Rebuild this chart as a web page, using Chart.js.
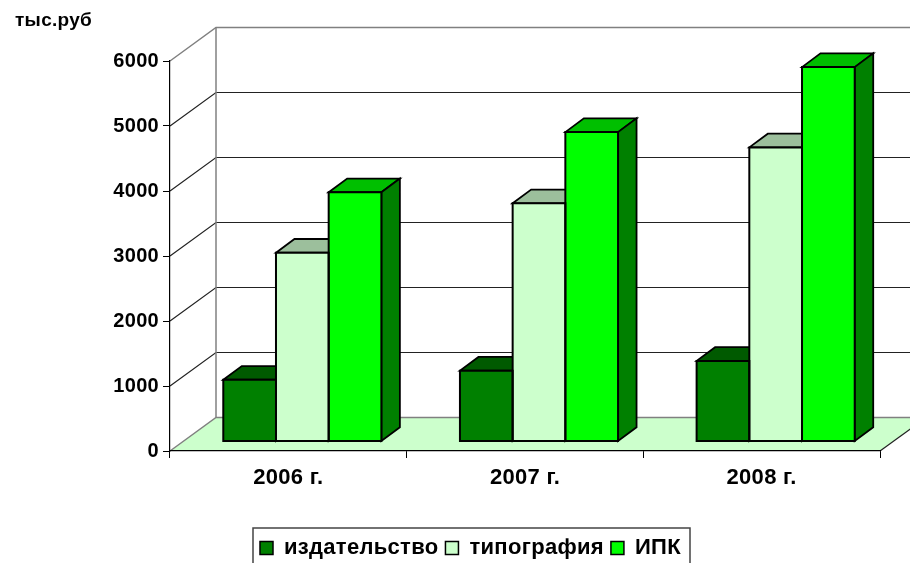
<!DOCTYPE html>
<html><head><meta charset="utf-8">
<style>html,body{margin:0;padding:0;background:#fff;overflow:hidden}#w{width:910px;height:563px}</style>
<script src="https://cdn.jsdelivr.net/npm/chart.js@4"></script>
</head><body><div id="w"><canvas id="c"></canvas></div>
<script>
const categories = ['2006 г.', '2007 г.', '2008 г.'];
const izdatelstvo = [950, 1090, 1240];
const tipografia = [2905, 3665, 4525];
const ipk = [3835, 4760, 5760];
const seriesNames = ['издательство', 'типография', 'ИПК'];
const unitLabel = 'тыс.руб';

const FRONT = ['#008000', '#CCFFCC', '#00FF00'];
const TOPS = ['#005A00', '#9CBF9C', '#00BF00'];
const SIDES = ['#004000', '#66806A', '#008000'];
const FONT = '"Liberation Sans", Arial, sans-serif';
const SPACING = '0.3px';
const WALL = {dx: 46, dy: -33.5, right: 910};
const BAR = {dx: 18.5, dy: -13.7, ox: 14, oy: -9.5};

function poly(ctx, pts, fill, stroke, lw) {
  ctx.beginPath();
  pts.forEach((p, i) => i ? ctx.lineTo(p[0], p[1]) : ctx.moveTo(p[0], p[1]));
  ctx.closePath();
  if (fill) { ctx.fillStyle = fill; ctx.fill(); }
  if (stroke) { ctx.strokeStyle = stroke; ctx.lineWidth = lw; ctx.stroke(); }
}
function line(ctx, pts, color, lw) {
  ctx.beginPath();
  pts.forEach((p, i) => i ? ctx.lineTo(p[0], p[1]) : ctx.moveTo(p[0], p[1]));
  ctx.strokeStyle = color; ctx.lineWidth = lw; ctx.stroke();
}
const depth3d = {
  id: 'depth3d',
  beforeLayout(chart) { chart.ctx.letterSpacing = SPACING; },
  beforeDraw(chart) {
    const ctx = chart.ctx, a = chart.chartArea, y = chart.scales.y;
    const L = a.left, R = a.right, B = a.bottom;
    const bx = L + WALL.dx, d = WALL.dy;
    ctx.letterSpacing = SPACING;
    chart.legend.left = 253; chart.legend.right = 690; chart.legend.top = 530;
    ctx.save();
    poly(ctx, [[L, B], [bx, B + d], [WALL.right + 2, B + d], [WALL.right + 2, B + (WALL.right + 2 - R) * d / WALL.dx], [R, B]], '#CCFFCC');
    [1000, 2000, 3000, 4000, 5000].forEach(v => {
      const p = y.getPixelForValue(v);
      line(ctx, [[L, p], [bx, p + d], [WALL.right, p + d]], '#222', 1.2);
    });
    const top = y.getPixelForValue(6000);
    line(ctx, [[L, top], [bx, top + d], [WALL.right, top + d]], '#808080', 1.5);
    line(ctx, [[L, B], [bx, B + d], [WALL.right, B + d]], '#808080', 1.5);
    line(ctx, [[bx, top + d], [bx, B + d]], '#808080', 1.5);
    line(ctx, [[R, B], [WALL.right + 2, B + (WALL.right + 2 - R) * d / WALL.dx]], '#222', 1.2);
    line(ctx, [[253, 564], [253, 528], [690, 528], [690, 564]], '#444', 1.5);
    ctx.fillStyle = '#000'; ctx.font = 'bold 19px ' + FONT;
    ctx.textBaseline = 'middle'; ctx.textAlign = 'left';
    ctx.fillText(unitLabel, 15, 21);
    ctx.restore();
  },
  beforeDatasetsDraw(chart) {
    const ctx = chart.ctx;
    ctx.save();
    ctx.translate(BAR.ox, BAR.oy);
    chart.data.datasets.forEach((ds, i) => {
      chart.getDatasetMeta(i).data.forEach(b => {
        const l = b.x - b.width / 2, r = b.x + b.width / 2, t = b.y, s = b.base;
        poly(ctx, [[l, t], [l + BAR.dx, t + BAR.dy], [r + BAR.dx, t + BAR.dy], [r, t]], TOPS[i], '#000', 1.8);
        poly(ctx, [[r, t], [r + BAR.dx, t + BAR.dy], [r + BAR.dx, s + BAR.dy], [r, s]], SIDES[i], '#000', 1.8);
      });
    });
  },
  afterDatasetsDraw(chart) {
    const ctx = chart.ctx;
    chart.data.datasets.forEach((ds, i) => {
      chart.getDatasetMeta(i).data.forEach(b => {
        const l = b.x - b.width / 2, r = b.x + b.width / 2;
        poly(ctx, [[l, b.y], [r, b.y], [r, b.base], [l, b.base]], null, '#000', 2);
      });
    });
    ctx.restore();
  }
};

new Chart(document.getElementById('c'), {
  type: 'bar',
  data: {
    labels: categories,
    datasets: [izdatelstvo, tipografia, ipk].map((d, i) => ({
      label: seriesNames[i], data: d, backgroundColor: FRONT[i],
      borderColor: '#000', borderWidth: 0,
      categoryPercentage: 0.668, barPercentage: 1
    }))
  },
  plugins: [depth3d],
  options: {
    responsive: true, maintainAspectRatio: false, animation: false,
    layout: {padding: {top: 61, right: 30, left: 0, bottom: 0}},
    plugins: {
      tooltip: {enabled: false},
      title: {display: false},
      legend: {
        position: 'bottom', align: 'start',
        labels: {
          boxWidth: 13, boxHeight: 13, color: '#000', padding: 7,
          font: {family: FONT, weight: 'bold', size: 22},
          generateLabels(chart) {
            return chart.data.datasets.map((ds, i) => ({
              text: ds.label, fillStyle: FRONT[i], strokeStyle: '#000',
              lineWidth: 1.5, datasetIndex: i, fontColor: '#000'
            }));
          }
        }
      }
    },
    scales: {
      x: {
        afterFit(s) { s.height = 73; },
        grid: {drawOnChartArea: false, drawTicks: true, tickLength: 7, color: '#000', offset: true},
        border: {color: '#000', width: 1.2},
        ticks: {color: '#000', padding: 7, maxRotation: 0, font: {family: FONT, weight: 'bold', size: 22}}
      },
      y: {
        min: 0, max: 6000,
        afterFit(s) { s.width = 170; },
        grid: {drawOnChartArea: false, drawTicks: true, tickLength: 7, color: '#000'},
        border: {color: '#000', width: 1.2},
        ticks: {stepSize: 1000, color: '#000', padding: 4, font: {family: FONT, weight: 'bold', size: 20},
          callback: v => String(v)}
      }
    }
  }
});
</script></body></html>
